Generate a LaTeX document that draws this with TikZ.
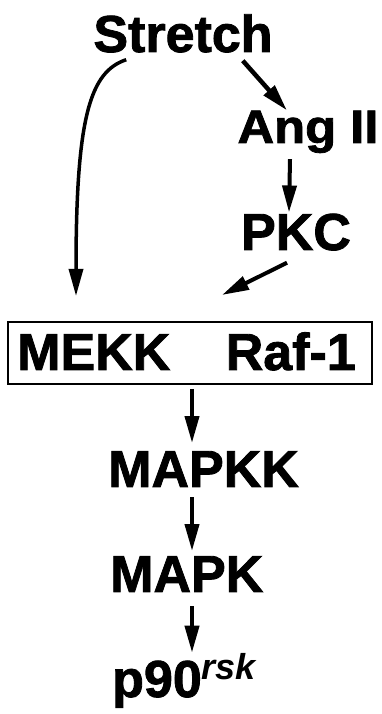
\documentclass[tikz,border=0pt]{standalone}
\usepackage{fontspec}
\setmainfont{Liberation Sans}[BoldFeatures={FakeBold=1.6}]
\usepackage{tikz}
\usetikzlibrary{positioning,arrows.meta}

\begin{document}
\begin{tikzpicture}[x=1pt,y=1pt,
  lbl/.style={inner sep=0pt,font=\fontsize{52}{60}\selectfont\bfseries},
  arr/.style={line width=4pt,-{Triangle[length=27pt,width=14pt]}}]
\useasboundingbox (0,0) rectangle (382,714);

\node[lbl,anchor=base] (stretch) at (183,662) {Stretch};
\node[lbl,anchor=base] (ang) at (308,571) {\fontsize{47}{50}\selectfont\scalebox{1.08}[1]{Ang II}};
\node[lbl,anchor=base] (pkc) at (296,464) {PKC};
\node[draw,line width=2pt,minimum width=364pt,minimum height=62pt] (box) at (190,361) {};
\node[lbl,anchor=base west] (mekk) at (17,344) {MEKK};
\node[lbl,anchor=base east] (raf) at (356,344) {Raf-1};
\node[lbl,anchor=base west] (mapkk) at (108,227) {MAPKK};
\node[lbl,anchor=base west] (mapk) at (110,122) {MAPK};
\node[lbl,anchor=base west] (p90) at (112,17) {p90\raisebox{17pt}{\fontsize{36}{40}\selectfont\itshape rsk}};
\coordinate (spine) at (192,0);

\draw[arr,line width=3.5pt] ([xshift=33pt,yshift=-7pt]stretch.south west)
  .. controls +(-36,-12) and +(0,180) .. ([xshift=69pt,yshift=25pt]box.north west);
\draw[arr,line width=4.5pt] ([xshift=-30pt,yshift=-8pt]stretch.south east) -- ([xshift=-21pt]ang.north);
\draw[arr] ([xshift=-18pt,yshift=-6pt]ang.south) -- ([xshift=-7pt,yshift=1pt]pkc.north);
\draw[arr] ([xshift=-9pt,yshift=-12pt]pkc.south) -- ([xshift=32pt,yshift=26pt]box.north);
\draw[arr,shorten <=4pt,shorten >=8pt] (box.south -| spine) -- (mapkk.north -| spine);
\draw[arr,shorten <=10pt,shorten >=5pt] (mapkk.south -| spine) -- (mapk.north -| spine);
\draw[arr,shorten <=14pt,shorten >=1pt] (mapk.south -| spine) -- (p90.north -| spine);
\end{tikzpicture}
\end{document}
